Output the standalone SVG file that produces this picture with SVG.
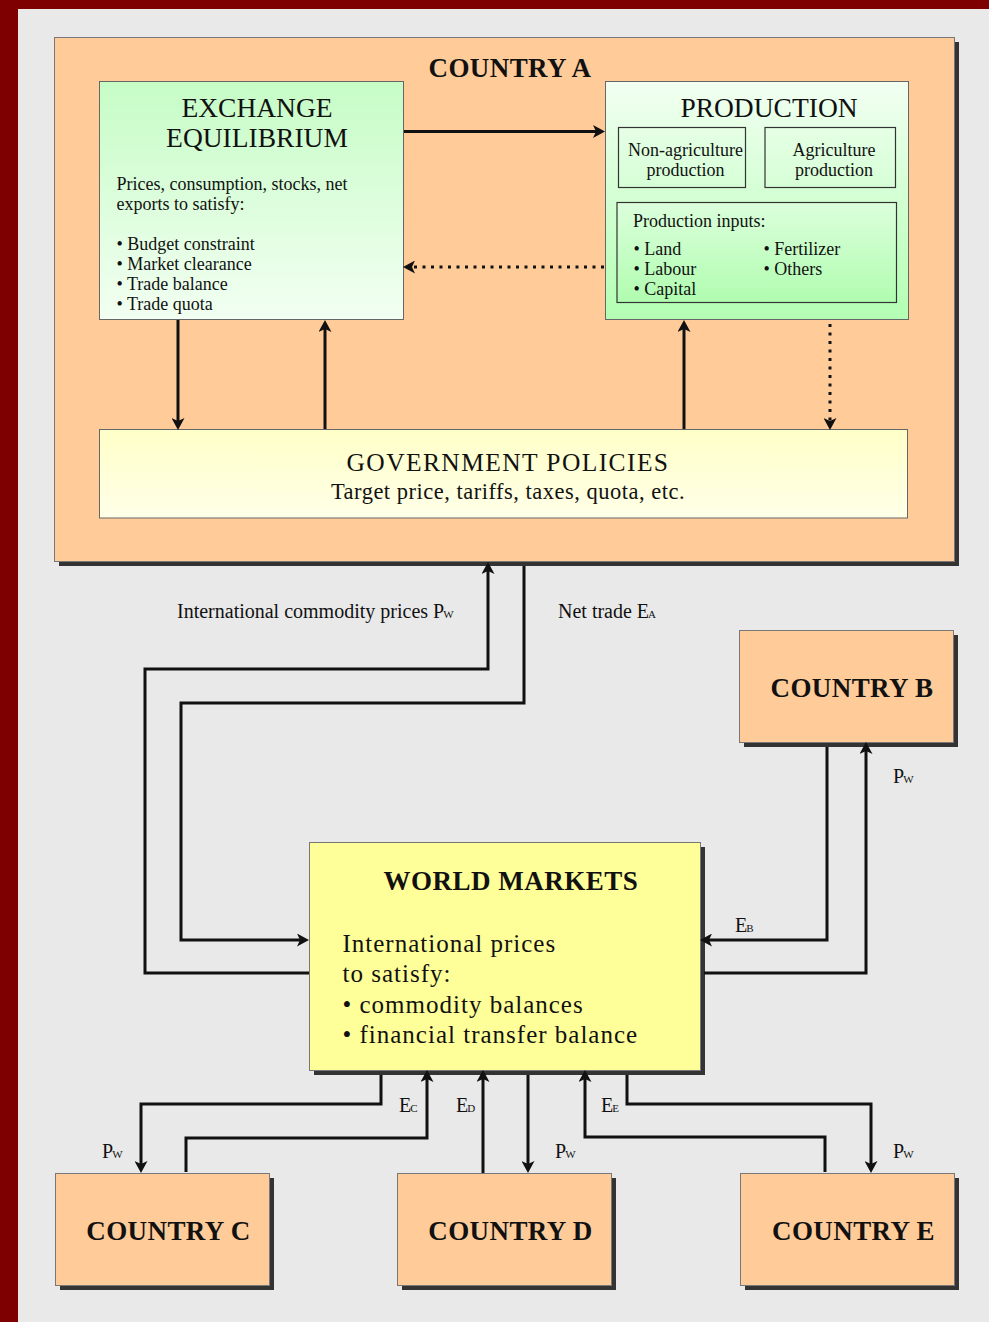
<svg xmlns="http://www.w3.org/2000/svg" width="989" height="1322" viewBox="0 0 989 1322">
<style>
  text { font-family: "Liberation Serif", "Times New Roman", serif; fill: #111; }
  .title { font-size: 27.5px; text-anchor: middle; }
  .body { font-size: 18px; }
  .ctr { text-anchor: middle; }
  .cty { font-size: 27px; font-weight: bold; text-anchor: middle; letter-spacing: 0.4px; }
  .lbl { font-size: 20px; }
  .sub { font-size: 11px; }
  .box { stroke: #666; stroke-width: 1; }
  .inner { fill: none; stroke: #333; stroke-width: 1.2; }
  .shadow { fill: #333; }
  .orange { fill: #ffcc99; stroke: #777; stroke-width: 1; }
  .conn { fill: none; stroke: #111; stroke-width: 3; marker-end: url(#ah); }
  .dot { stroke-dasharray: 3 5.5; }
</style>
<defs>
  <marker id="ah" markerUnits="userSpaceOnUse" markerWidth="14" markerHeight="13" viewBox="0 0 14 13" refX="4" refY="6.5" orient="auto">
    <path d="M0,0 L12,6.5 L0,13 L3,6.5 z" fill="#111"/>
  </marker>
  <linearGradient id="gEx" x1="0" y1="0" x2="0" y2="1">
    <stop offset="0" stop-color="#c6fcc6"/>
    <stop offset="1" stop-color="#f2fff2"/>
  </linearGradient>
  <linearGradient id="gPr" x1="0" y1="0" x2="0" y2="1">
    <stop offset="0" stop-color="#f2fff2"/>
    <stop offset="1" stop-color="#b3ffb3"/>
  </linearGradient>
  <linearGradient id="gIn" x1="0" y1="0" x2="0" y2="1">
    <stop offset="0" stop-color="#dcffdc"/>
    <stop offset="1" stop-color="#b0fcb0"/>
  </linearGradient>
  <linearGradient id="gGov" x1="0" y1="0" x2="0" y2="1">
    <stop offset="0" stop-color="#ffffc8"/>
    <stop offset="1" stop-color="#ffffe8"/>
  </linearGradient>
</defs>

<g id="background">
  <rect x="0" y="0" width="989" height="1322" fill="#e9e9e9"/>
  <rect x="0" y="0" width="989" height="9" fill="#7f0000"/>
  <rect x="0" y="0" width="18" height="1322" fill="#7f0000"/>
</g>

<g id="country-a">
  <rect class="shadow" x="59" y="42" width="900" height="524"/>
  <rect class="orange" x="54.5" y="37.5" width="900" height="524"/>
  <text class="cty" x="510" y="77">COUNTRY A</text>
</g>

<g id="exchange-equilibrium">
  <rect class="box" x="99.5" y="81.5" width="304" height="238" fill="url(#gEx)"/>
  <text class="title" x="257" y="116.5">EXCHANGE</text>
  <text class="title" x="257" y="146.5">EQUILIBRIUM</text>
  <text class="body" x="116.5" y="190">Prices, consumption, stocks, net</text>
  <text class="body" x="116.5" y="210">exports to satisfy:</text>
  <text class="body" x="116.5" y="250">• Budget constraint</text>
  <text class="body" x="116.5" y="270">• Market clearance</text>
  <text class="body" x="116.5" y="290">• Trade balance</text>
  <text class="body" x="116.5" y="310">• Trade quota</text>
</g>

<g id="production">
  <rect class="box" x="605.5" y="81.5" width="303" height="238" fill="url(#gPr)"/>
  <text class="title" x="769" y="116.5">PRODUCTION</text>
  <g id="non-agriculture">
    <rect class="inner" x="618.5" y="127.5" width="127" height="60"/>
    <text class="body ctr" x="685.5" y="156">Non-agriculture</text>
    <text class="body ctr" x="685.5" y="176">production</text>
  </g>
  <g id="agriculture">
    <rect class="inner" x="765" y="127.5" width="130.5" height="60"/>
    <text class="body ctr" x="834" y="156">Agriculture</text>
    <text class="body ctr" x="834" y="176">production</text>
  </g>
  <g id="production-inputs">
    <rect x="617" y="202.5" width="279.5" height="100" fill="url(#gIn)" stroke="#333" stroke-width="1.2"/>
    <text class="body" x="633" y="226.5">Production inputs:</text>
    <text class="body" x="633.5" y="255">• Land</text>
    <text class="body" x="633.5" y="275">• Labour</text>
    <text class="body" x="633.5" y="295">• Capital</text>
    <text class="body" x="763.5" y="255">• Fertilizer</text>
    <text class="body" x="763.5" y="275">• Others</text>
  </g>
</g>

<g id="government-policies">
  <rect class="box" x="99.5" y="429.5" width="808" height="88.5" fill="url(#gGov)"/>
  <text class="ctr" x="508" y="470.5" style="font-size:25.5px; letter-spacing:1.4px">GOVERNMENT POLICIES</text>
  <text class="ctr" x="508" y="498.5" style="font-size:22.5px; letter-spacing:0.5px">Target price, tariffs, taxes, quota, etc.</text>
</g>

<g id="country-b">
  <rect class="shadow" x="744" y="635" width="214" height="112"/>
  <rect class="orange" x="739.5" y="630.5" width="214" height="112"/>
  <text class="cty" x="852" y="697">COUNTRY B</text>
</g>

<g id="world-markets">
  <rect class="shadow" x="314" y="847" width="391" height="228"/>
  <rect x="309.5" y="842.5" width="391" height="228" fill="#ffff99" stroke="#777" stroke-width="1"/>
  <text class="cty" x="511" y="890" style="letter-spacing:0.5px">WORLD MARKETS</text>
  <g style="font-size:25px; letter-spacing:1px">
    <text x="342.5" y="951.5">International prices</text>
    <text x="342.5" y="981.5">to satisfy:</text>
    <text x="342.5" y="1012.5">• commodity balances</text>
    <text x="342.5" y="1042.5">• financial transfer balance</text>
  </g>
</g>

<g id="country-c">
  <rect class="shadow" x="60" y="1178" width="214" height="112"/>
  <rect class="orange" x="55.5" y="1173.5" width="214" height="112"/>
  <text class="cty" x="168.5" y="1240">COUNTRY C</text>
</g>

<g id="country-d">
  <rect class="shadow" x="402" y="1178" width="214" height="112"/>
  <rect class="orange" x="397.5" y="1173.5" width="214" height="112"/>
  <text class="cty" x="510.5" y="1240">COUNTRY D</text>
</g>

<g id="country-e">
  <rect class="shadow" x="745" y="1178" width="214" height="112"/>
  <rect class="orange" x="740.5" y="1173.5" width="214" height="112"/>
  <text class="cty" x="853.5" y="1240">COUNTRY E</text>
</g>

<g id="connectors">
  <path class="conn" d="M404,131.5 H597"/>
  <path class="conn dot" d="M604,267 H411"/>
  <path class="conn" d="M178,320 V422"/>
  <path class="conn" d="M325,429 V328"/>
  <path class="conn" d="M684,429 V328"/>
  <path class="conn dot" d="M830,324 V422"/>
  <path class="conn" d="M309,973 H145 V669 H488 V570"/>
  <path class="conn" d="M524,566 V703 H181 V940 H301"/>
  <path class="conn" d="M827,747 V940 H708"/>
  <path class="conn" d="M704,973 H866 V750"/>
  <path class="conn" d="M381,1075 V1104 H141 V1165"/>
  <path class="conn" d="M186,1172 V1138 H427 V1078"/>
  <path class="conn" d="M483,1173 V1078"/>
  <path class="conn" d="M528,1075 V1165"/>
  <path class="conn" d="M825,1172 V1137 H585 V1078"/>
  <path class="conn" d="M627,1075 V1104 H871 V1165"/>
</g>

<g id="labels">
  <text class="lbl" x="177" y="617.5">International commodity prices P<tspan class="sub" dx="-1">W</tspan></text>
  <text class="lbl" x="558" y="618">Net trade E<tspan class="sub" dx="-1">A</tspan></text>
  <text class="lbl" x="893" y="783">P<tspan class="sub" dx="-1">W</tspan></text>
  <text class="lbl" x="735" y="932">E<tspan class="sub" dx="-1">B</tspan></text>
  <text class="lbl" x="399" y="1112">E<tspan class="sub" dx="-1">C</tspan></text>
  <text class="lbl" x="456" y="1112">E<tspan class="sub" dx="-1">D</tspan></text>
  <text class="lbl" x="601" y="1112">E<tspan class="sub" dx="-1">E</tspan></text>
  <text class="lbl" x="102" y="1158">P<tspan class="sub" dx="-1">W</tspan></text>
  <text class="lbl" x="555" y="1158">P<tspan class="sub" dx="-1">W</tspan></text>
  <text class="lbl" x="893" y="1158">P<tspan class="sub" dx="-1">W</tspan></text>
</g>
</svg>
